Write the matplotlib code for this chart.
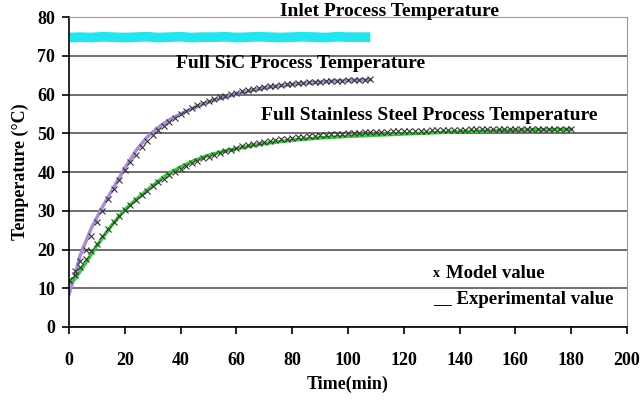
import numpy as np
import matplotlib.pyplot as plt

plt.rcParams['font.family'] = 'Liberation Serif'
plt.rcParams['font.weight'] = 'bold'
plt.rcParams['axes.labelweight'] = 'bold'

# inlet temperature (experimental), every 4 min
t_inlet = np.arange(0, 109, 4)
inlet = [74.7, 74.8, 74.7, 74.9, 74.8, 74.7, 74.8, 74.9, 74.7, 74.8, 74.9, 74.7, 74.8, 74.8,
         74.9, 74.7, 74.8, 74.9, 74.8, 74.7, 74.8, 74.9, 74.8, 74.7, 74.9, 74.8, 74.8, 74.8]

# full SiC process - experimental
t_sic_exp = [0, 2, 4, 8, 12, 16, 20, 24, 28, 32, 36, 40, 44, 48, 52, 56, 60, 64, 68, 72,
             76, 80, 84, 88, 92, 96, 100, 104, 108]
sic_exp = [8.5, 13.0, 18.5, 25.5, 31.0, 36.0, 41.0, 45.5, 49.0, 51.5, 53.5, 55.0, 56.3, 57.5,
           58.5, 59.3, 60.1, 60.8, 61.4, 61.9, 62.3, 62.6, 62.9, 63.1, 63.3, 63.5, 63.6, 63.7, 63.8]

# full SiC process - model, every 2 min
t_sic_mod = np.arange(0, 109, 2)
sic_mod = [12.0, 14.5, 17.0, 20.0, 23.5, 27.0, 30.0, 33.0, 35.5, 38.0, 40.5, 42.5, 44.5, 46.5,
           48.0, 49.5, 50.8, 52.0, 53.0, 54.0, 55.0, 55.8, 56.5, 57.2, 57.8, 58.3, 58.8, 59.3,
           59.7, 60.1, 60.5, 60.8, 61.1, 61.4, 61.6, 61.9, 62.1, 62.3, 62.5, 62.6, 62.8, 62.9,
           63.0, 63.1, 63.2, 63.3, 63.4, 63.5, 63.5, 63.6, 63.7, 63.7, 63.8, 63.8, 63.9]

# full stainless steel process - experimental
t_ss_exp = [0, 2, 5, 10, 15, 20, 25, 30, 35, 40, 45, 50, 55, 60, 65, 70, 75, 80, 85, 90, 95,
            100, 110, 120, 130, 140, 150, 160, 170, 180]
ss_exp = [11.5, 12.3, 15.5, 21.0, 26.0, 30.3, 33.5, 36.5, 39.3, 41.3, 43.0, 44.3, 45.3, 46.0,
          46.7, 47.3, 47.8, 48.2, 48.5, 48.8, 49.0, 49.2, 49.5, 49.8, 50.1, 50.4, 50.6, 50.8,
          50.9, 51.0]

# full stainless steel process - model, every 2 min
t_ss_mod = np.arange(0, 181, 2)
ss_mod = [12.0, 13.5, 15.5, 17.5, 19.5, 21.5, 23.5, 25.3, 27.0, 28.6, 30.1, 31.5, 32.8, 34.0,
          35.2, 36.3, 37.3, 38.3, 39.2, 40.0, 40.8, 41.5, 42.2, 42.9, 43.5, 44.0, 44.5, 45.0,
          45.4, 45.8, 46.2, 46.6, 46.9, 47.2, 47.5, 47.8, 48.0, 48.2, 48.4, 48.6, 48.8, 49.0,
          49.1, 49.3, 49.4, 49.5, 49.6, 49.7, 49.8, 49.9, 50.0, 50.1, 50.1, 50.2, 50.3, 50.3,
          50.4, 50.4, 50.5, 50.5, 50.6, 50.6, 50.7, 50.7, 50.7, 50.8, 50.8, 50.8, 50.9, 50.9,
          50.9, 50.9, 51.0, 51.0, 51.0, 51.0, 51.0, 51.1, 51.1, 51.1, 51.1, 51.1, 51.1, 51.2,
          51.2, 51.2, 51.2, 51.2, 51.2, 51.2, 51.2]

fig = plt.figure(figsize=(6.42, 4.05), dpi=100)
ax = fig.add_axes([0.1075, 0.1926, 0.8691, 0.7654])

ax.plot(t_inlet, inlet, '-', color='#22E6EE', lw=7, solid_capstyle='butt')
ax.plot(t_sic_exp, sic_exp, '-', color='#A88ED8', lw=2.5)
ax.plot(t_ss_exp, ss_exp, '-', color='#33CC33', lw=2.5)
ax.plot(t_sic_mod, sic_mod, 'x', color='#333333', ms=5, mew=0.8)
ax.plot(t_ss_mod, ss_mod, 'x', color='#333333', ms=5, mew=0.8)

ax.set_xlim(0, 200)
ax.set_ylim(0, 80)
ax.set_xticks(range(0, 201, 20))
ax.set_yticks(range(0, 81, 10))
ax.grid(axis='y', color='#555555', lw=1.2)
ax.set_axisbelow(True)
for s in ['top', 'right']:
    ax.spines[s].set_color('#999999')
ax.spines['left'].set_linewidth(1.2)
ax.spines['bottom'].set_linewidth(1.2)
ax.tick_params(direction='out', length=5, width=1.2, labelsize=13)
ax.tick_params(axis='x', pad=13)
ax.tick_params(axis='y', pad=5)
ax.set_xlabel('Time(min)', fontsize=13, labelpad=5)
ax.set_ylabel('Temperature (°C)', fontsize=13, labelpad=6)

ax.text(115, 81.5, 'Inlet Process Temperature', fontsize=14, ha='center', va='center')
ax.text(83, 68.1, 'Full SiC Process Temperature', fontsize=14, ha='center', va='center')
ax.text(129, 54.7, 'Full Stainless Steel Process Temperature', fontsize=14, ha='center', va='center')
ax.text(130.5, 13.9, 'x', fontsize=10, ha='left', va='center')
ax.text(135, 13.9, 'Model value', fontsize=13.5, ha='left', va='center')
ax.text(130.5, 7.2, '__ Experimental value', fontsize=13.5, ha='left', va='center')

fig.savefig('out.png', dpi=100)
